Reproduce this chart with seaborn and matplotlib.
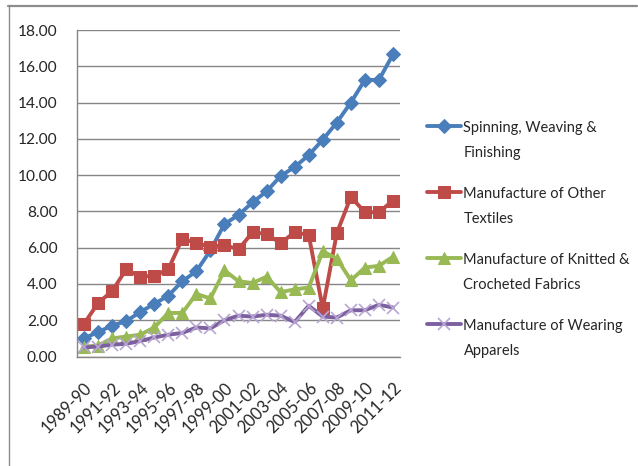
import matplotlib
matplotlib.use("Agg")
import matplotlib.pyplot as plt
from matplotlib.lines import Line2D
from matplotlib.offsetbox import HPacker, DrawingArea, TextArea
import seaborn as sns
import pandas as pd

years = ["1989-90", "1990-91", "1991-92", "1992-93", "1993-94", "1994-95",
         "1995-96", "1996-97", "1997-98", "1998-99", "1999-00", "2000-01",
         "2001-02", "2002-03", "2003-04", "2004-05", "2005-06", "2006-07",
         "2007-08", "2008-09", "2009-10", "2010-11", "2011-12"]

spinning = [1.0, 1.35, 1.7, 1.95, 2.45, 2.9, 3.35, 4.15, 4.7, 5.85, 7.3, 7.8,
            8.5, 9.1, 9.95, 10.45, 11.1, 11.95, 12.9, 14.0, 15.25, 15.25, 16.65]
other_textiles = [1.8, 2.95, 3.6, 4.8, 4.4, 4.45, 4.8, 6.5, 6.25, 6.05, 6.15, 5.9,
                  6.85, 6.75, 6.25, 6.85, 6.7, 2.65, 6.8, 8.8, 7.95, 7.95, 8.6]
knitted = [0.55, 0.6, 1.0, 1.1, 1.2, 1.6, 2.4, 2.4, 3.45, 3.2, 4.75, 4.15,
           4.05, 4.4, 3.55, 3.7, 3.8, 5.8, 5.4, 4.2, 4.9, 5.0, 5.5]
wearing = [0.5, 0.55, 0.65, 0.7, 0.85, 1.05, 1.2, 1.3, 1.6, 1.55, 2.0, 2.25,
           2.2, 2.3, 2.25, 1.9, 2.8, 2.2, 2.15, 2.55, 2.55, 2.85, 2.7]

series_labels = ["Spinning, Weaving &\nFinishing",
                 "Manufacture of Other\nTextiles",
                 "Manufacture of Knitted &\nCrocheted Fabrics",
                 "Manufacture of Wearing\nApparels"]
y_ticks = [0, 2, 4, 6, 8, 10, 12, 14, 16, 18]

sns.set_style("white")
FONT = ["Lato", "DejaVu Sans"]
plt.rcParams["font.family"] = FONT

fig = plt.figure(figsize=(6.38, 4.66), dpi=100)
ax = fig.add_axes([77 / 638, 1 - 356.5 / 466, 323 / 638, 326.5 / 466])

styles = [
    dict(color="#4A7EBB", marker="D", markersize=7.5, markeredgecolor="#4A7EBB"),
    dict(color="#BE4B48", marker="s", markersize=8.5, markeredgecolor="#BE4B48"),
    dict(color="#98B954", marker="^", markersize=9, markeredgecolor="#98B954"),
    dict(color="#7D60A0", marker="x", markersize=8.5, markeredgecolor="#B7A5D3",
         markeredgewidth=1.2),
]
data = [spinning, other_textiles, knitted, wearing]

for vals, lab, st in zip(data, series_labels, styles):
    df = pd.DataFrame({"year": years, "value": vals})
    sns.lineplot(data=df, x="year", y="value", ax=ax, label=lab, linewidth=2.8,
                 sort=False, **st)

ax.set_xlim(-0.5, len(years) - 0.5)
ax.set_ylim(0, 18)
ax.set_yticks(y_ticks)
ax.set_yticklabels([f"{v:.2f}" for v in y_ticks], fontsize=11.2)
ax.set_xticks(range(0, len(years), 2))
ax.set_xticklabels(years[::2], rotation=45, ha="right", rotation_mode="anchor",
                   fontsize=12)
ax.tick_params(axis="both", length=0)
ax.tick_params(axis="x", pad=17)
ax.tick_params(axis="y", pad=14)
ax.set_xlabel("")
ax.set_ylabel("")
ax.grid(axis="y", color="#868686", linewidth=1.0)
ax.set_axisbelow(True)
for s in ["top", "right"]:
    ax.spines[s].set_visible(False)
for s in ["left", "bottom"]:
    ax.spines[s].set_color("#868686")
    ax.spines[s].set_linewidth(1.0)

leg = ax.legend(loc="upper left", bbox_to_anchor=(427 / 638, 1 - 121 / 466),
                bbox_transform=fig.transFigure, frameon=False, fontsize=10.5,
                handlelength=2.3, handletextpad=0.2, labelspacing=1.85,
                borderpad=0, borderaxespad=0)
for hp in leg.findobj(HPacker):
    ch = hp.get_children()
    if len(ch) == 2 and isinstance(ch[0], DrawingArea) and isinstance(ch[1], TextArea):
        hp.align = "top"
for t in leg.get_texts():
    t.set_linespacing(2.0)

fig.add_artist(Line2D([8 / 638, 637 / 638], [1 - 5.5 / 466, 1 - 5.5 / 466],
                      transform=fig.transFigure, color="#8C8C8C", linewidth=1.6))
fig.add_artist(Line2D([8.5 / 638, 8.5 / 638], [1 - 5.5 / 466, 0],
                      transform=fig.transFigure, color="#8C8C8C", linewidth=1.0))

fig.savefig("out.png", dpi=100)
